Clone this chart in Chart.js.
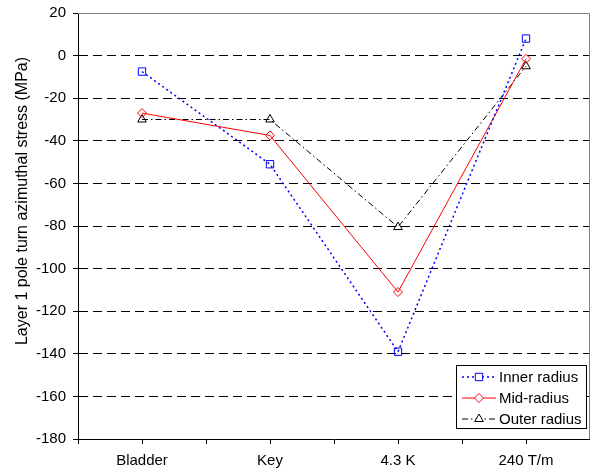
<!DOCTYPE html>
<html>
<head>
<meta charset="utf-8">
<script src="https://cdn.jsdelivr.net/npm/chart.js@4.4.0/dist/chart.umd.min.js"></script>
<style>
  html, body { margin: 0; padding: 0; background: #fff; }
  #wrap { width: 590px; height: 468px; }
</style>
</head>
<body>
<div id="wrap"><canvas id="chart" width="590" height="468"></canvas></div>
<script>
// chart data
const categories = ['Bladder', 'Key', '4.3 K', '240 T/m'];
const innerRadius = [-7.5, -51, -139, 8];
const midRadius = [-27, -37.5, -111, -1.5];
const outerRadius = [-30, -30, -80.5, -5];
const seriesNames = ['Inner radius', 'Mid-radius', 'Outer radius'];
const yTitle = 'Layer 1 pole turn azimuthal stress (MPa)';
const yMin = -180, yMax = 20, yStep = 20;

const FAMILY = 'Arial, "Liberation Sans", sans-serif';
const FONT = { family: FAMILY, size: 15 };

// categories sit at 0.5, 1.5 ... so ticks land both between and under them
const toPoints = vals => vals.map((v, i) => ({ x: i + 0.5, y: v }));

// y title, grey frame top/right, boxed legend bottom-right
const frameAndLegend = {
    id: 'frameAndLegend',
    afterDraw(chart) {
        const { ctx, chartArea } = chart;
        ctx.save();

        ctx.save();
        ctx.translate(23, 201);
        ctx.rotate(-Math.PI / 2);
        ctx.font = '16px ' + FAMILY;
        ctx.fillStyle = '#000';
        ctx.textAlign = 'center';
        ctx.textBaseline = 'middle';
        ctx.fillText(yTitle, 0, 0);
        ctx.restore();

        ctx.strokeStyle = '#808080';
        ctx.lineWidth = 1;
        ctx.beginPath();
        ctx.moveTo(chartArea.left, chartArea.top + 0.5);
        ctx.lineTo(chartArea.right - 0.5, chartArea.top + 0.5);
        ctx.lineTo(chartArea.right - 0.5, chartArea.bottom);
        ctx.stroke();

        const w = 130, h = 63;
        const x0 = Math.round(chartArea.right - 4 - w);
        const y0 = Math.round(chartArea.bottom - 11 - h);
        ctx.fillStyle = '#fff';
        ctx.fillRect(x0, y0, w, h);
        ctx.strokeStyle = '#000';
        ctx.strokeRect(x0 + 0.5, y0 + 0.5, w, h);

        ctx.font = FONT.size + 'px ' + FAMILY;
        ctx.textBaseline = 'middle';
        chart.data.datasets.forEach((ds, i) => {
            const y = y0 + 12 + i * 21;
            ctx.setLineDash(ds.borderDash || []);
            ctx.strokeStyle = ds.borderColor;
            ctx.lineWidth = ds.borderWidth;
            ctx.beginPath();
            ctx.moveTo(x0 + 6, y);
            ctx.lineTo(x0 + 40, y);
            ctx.stroke();
            ctx.setLineDash([]);
            ctx.lineWidth = 1;
            ctx.fillStyle = '#fff';
            Chart.helpers.drawPoint(ctx, { pointStyle: ds.pointStyle, radius: ds.pointRadius, borderWidth: 1, rotation: 0 }, x0 + 23, y);
            ctx.fillStyle = '#000';
            ctx.fillText(ds.label, x0 + 43, y + 1);
        });
        ctx.restore();
    }
};

new Chart(document.getElementById('chart'), {
    type: 'line',
    data: {
        datasets: [
            {
                label: seriesNames[0],
                data: toPoints(innerRadius),
                borderColor: '#0000ff',
                borderWidth: 1.5,
                borderDash: [2, 3],
                pointStyle: 'rect',
                pointRadius: 5.2,
                pointBorderWidth: 1,
                pointBackgroundColor: 'rgba(0,0,0,0)',
                pointBorderColor: '#0000ff'
            },
            {
                label: seriesNames[1],
                data: toPoints(midRadius),
                borderColor: '#ff0000',
                borderWidth: 1,
                pointStyle: 'rectRot',
                pointRadius: 4.5,
                pointBorderWidth: 1,
                pointBackgroundColor: 'rgba(0,0,0,0)',
                pointBorderColor: '#ff0000'
            },
            {
                label: seriesNames[2],
                data: toPoints(outerRadius),
                borderColor: '#000000',
                borderWidth: 1,
                borderDash: [6, 3, 1.5, 3],
                pointStyle: 'triangle',
                pointRadius: 5,
                pointBorderWidth: 1,
                pointBackgroundColor: 'rgba(0,0,0,0)',
                pointBorderColor: '#000000'
            }
        ]
    },
    options: {
        responsive: false,
        animation: false,
        layout: { autoPadding: false, padding: { top: 13, right: 0, left: 0, bottom: 0 } },
        plugins: {
            legend: { display: false },
            tooltip: { enabled: false }
        },
        elements: { line: { tension: 0 } },
        scales: {
            x: {
                type: 'linear',
                min: 0,
                max: categories.length,
                afterBuildTicks: scale => {
                    const t = [];
                    for (let v = 0; v <= categories.length + 1e-9; v += 0.5) t.push({ value: v });
                    scale.ticks = t;
                },
                afterFit: scale => {
                    scale.height = 29;
                    scale.paddingLeft = 0;
                    scale.paddingRight = 0;
                },
                ticks: {
                    autoSkip: false,
                    maxRotation: 0,
                    padding: 8,
                    color: '#000',
                    font: FONT,
                    callback: v => (v % 1 === 0.5 ? categories[Math.floor(v)] : '')
                },
                grid: { drawOnChartArea: false, drawTicks: true, tickLength: 5, tickColor: '#000' },
                border: { color: '#000', width: 1 }
            },
            y: {
                min: yMin,
                max: yMax,
                afterFit: scale => {
                    scale.width = 78;
                    scale.paddingTop = 0;
                    scale.paddingBottom = 0;
                },
                ticks: {
                    stepSize: yStep,
                    padding: 7,
                    color: '#000',
                    font: FONT
                },
                grid: {
                    drawTicks: true,
                    tickLength: 5,
                    tickColor: '#000',
                    color: ctx => (ctx.tick && (ctx.tick.value === yMin || ctx.tick.value === yMax)) ? 'rgba(0,0,0,0)' : '#000'
                },
                border: { color: '#000', width: 1, dash: [9, 5] }
            }
        }
    },
    plugins: [frameAndLegend]
});
</script>
</body>
</html>
